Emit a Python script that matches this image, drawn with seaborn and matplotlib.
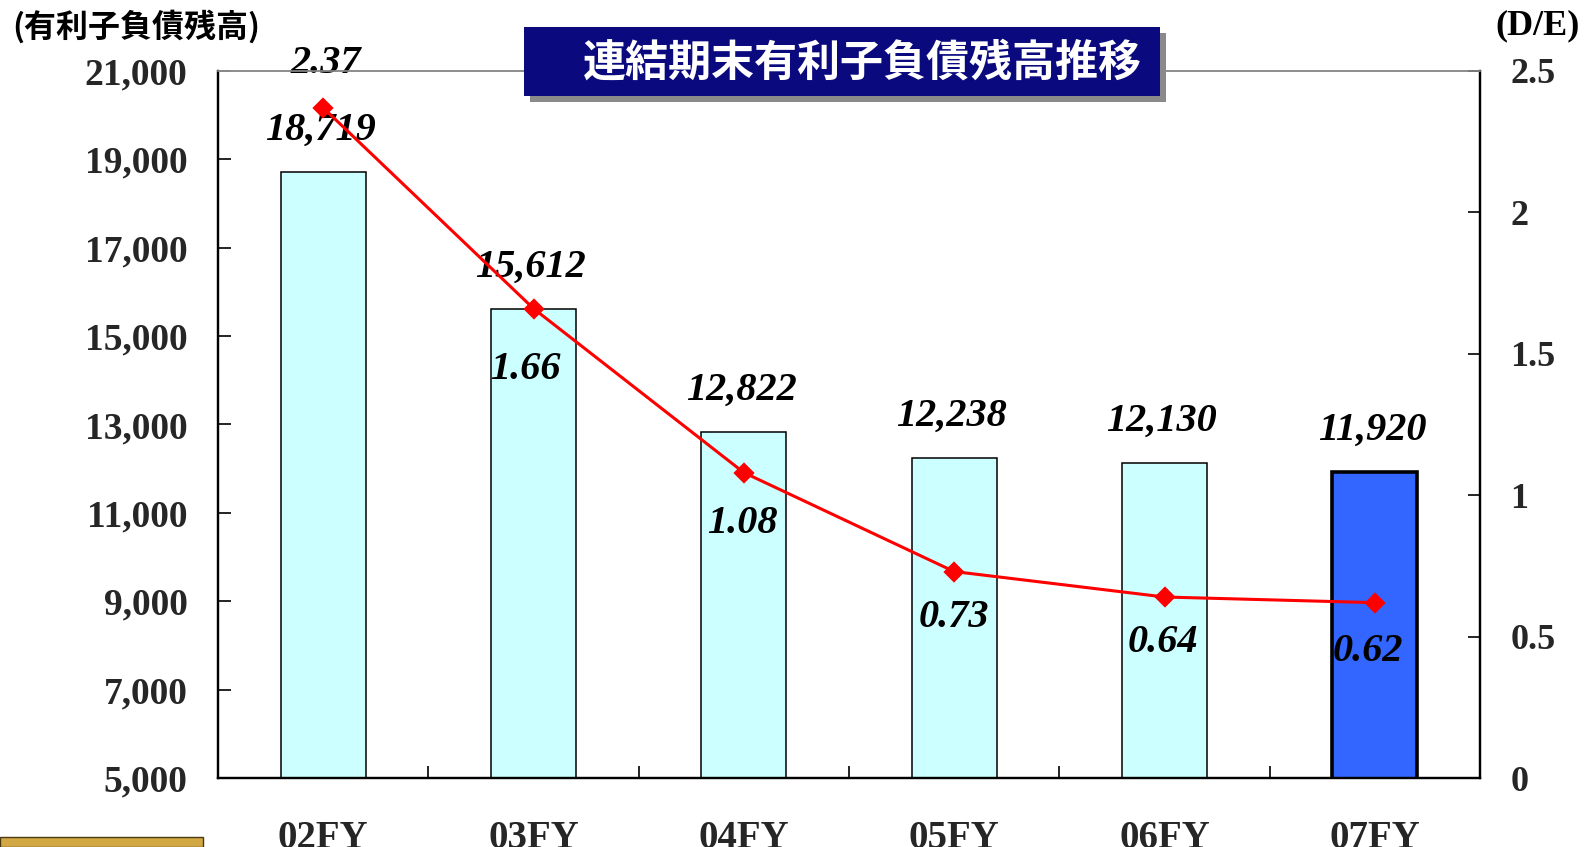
import matplotlib
matplotlib.use("Agg")
import matplotlib.pyplot as plt
import seaborn as sns
import pandas as pd
from matplotlib.patches import Rectangle

# ---- data ----
categories = ["02FY", "03FY", "04FY", "05FY", "06FY", "07FY"]
debt = [18719, 15612, 12822, 12238, 12130, 11920]
de_ratio = [2.37, 1.66, 1.08, 0.73, 0.64, 0.62]
debt_labels = ["18,719", "15,612", "12,822", "12,238", "12,130", "11,920"]
de_labels = ["2.37", "1.66", "1.08", "0.73", "0.64", "0.62"]
left_ticks = [5000, 7000, 9000, 11000, 13000, 15000, 17000, 19000, 21000]
left_tick_labels = ["5,000", "7,000", "9,000", "11,000", "13,000", "15,000", "17,000", "19,000", "21,000"]
right_ticks = [0, 0.5, 1, 1.5, 2, 2.5]
right_tick_labels = ["0", "0.5", "1", "1.5", "2", "2.5"]
title_text = "連結期末有利子負債残高推移"
left_unit = "(有利子負債残高)"
right_unit = "(D/E)"

# ---- style ----
bar_colors = ["#CCFFFF"] * 5 + ["#3366FF"]
bar_lw = [1.1] * 5 + [2.6]
de_offsets = [(2, 32), (-6, -44), (-1, -37), (0, -33), (-1, -33), (-5, -35)]

sns.set_theme(style="white")
plt.rcParams["font.family"] = ["Liberation Serif", "DejaVu Serif"]
cjk = ["Noto Sans CJK JP", "DejaVu Sans"]

fig = plt.figure(figsize=(15.89, 8.47), dpi=100)
ax = fig.add_axes([218 / 1589, 69 / 847, 1262 / 1589, 707 / 847])

df = pd.DataFrame({"cat": categories, "debt": debt})
sns.barplot(data=df, x="cat", y="debt", hue="cat", palette=bar_colors,
            legend=False, width=0.405, ax=ax, order=categories, saturation=1)
for p, lw in zip(ax.patches, bar_lw):
    p.set_edgecolor("black")
    p.set_linewidth(lw)

ax.set_xlim(-0.5, 5.5)
ax.set_ylim(5000, 21000)
ax.set_yticks(left_ticks)
ax.set_yticklabels(left_tick_labels, fontsize=27, fontweight="bold")
ax.set_xticks(range(len(categories)))
ax.set_xticklabels(categories, fontsize=28, fontweight="bold")
ax.set_xlabel("")
ax.set_ylabel("")
ax.tick_params(axis="y", direction="in", length=9, width=1.2, color="black",
               pad=22, left=True)
ax.tick_params(axis="x", length=0, pad=30)
ax.set_xticks([0.5, 1.5, 2.5, 3.5, 4.5], minor=True)
ax.tick_params(axis="x", which="minor", direction="in", length=9, width=1.2,
               color="black", bottom=True)

for side in ["left", "bottom", "right"]:
    ax.spines[side].set_color("black")
    ax.spines[side].set_linewidth(1.6)
ax.spines["top"].set_color("#8c8c8c")
ax.spines["top"].set_linewidth(1.2)

for i, (v, lab) in enumerate(zip(debt, debt_labels)):
    ax.annotate(lab, (i, v), xytext=(-2, 30), textcoords="offset points",
                ha="center", va="center", fontsize=29, fontweight="bold",
                fontstyle="italic", color="black", zorder=5)

ax2 = ax.twinx()
sns.pointplot(x=categories, y=de_ratio, order=categories, color="#FF0000",
              markers="D", linestyles="-", ax=ax2, markersize=9,
              linewidth=2.2)
ax2.set_ylim(0, 2.5)
ax2.set_xlim(-0.5, 5.5)
ax2.set_yticks(right_ticks)
ax2.set_yticklabels(right_tick_labels, fontsize=26, fontweight="bold")
ax2.tick_params(axis="y", direction="in", length=9, width=1.2, color="black",
                pad=22, right=True)
ax2.set_ylabel("")
ax2.set_xlabel("")
for side in ["left", "bottom", "right"]:
    ax2.spines[side].set_color("black")
    ax2.spines[side].set_linewidth(1.6)
ax2.spines["top"].set_color("#8c8c8c")
ax2.spines["top"].set_linewidth(1.2)

for i, (v, lab, off) in enumerate(zip(de_ratio, de_labels, de_offsets)):
    ax2.annotate(lab, (i, v), xytext=off, textcoords="offset points",
                 ha="center", va="center", fontsize=29, fontweight="bold",
                 fontstyle="italic", color="black", zorder=1)

# title box with shadow
fig.patches.append(Rectangle((530 / 1589, 1 - 102 / 847), 636 / 1589, 69 / 847,
                             transform=fig.transFigure, facecolor="#8a8a8a",
                             edgecolor="none", zorder=10))
fig.patches.append(Rectangle((524 / 1589, 1 - 96 / 847), 636 / 1589, 69 / 847,
                             transform=fig.transFigure, facecolor="#0A0A7E",
                             edgecolor="none", zorder=11))
fig.text(862 / 1589, 1 - 63 / 847, title_text, family=cjk, fontsize=31,
         fontweight="bold", color="white", ha="center", va="center", zorder=12)

fig.text(12 / 1589, 1 - 27 / 847, left_unit, family=cjk, fontsize=23,
         fontweight="bold", color="black", ha="left", va="center")
fig.text(1538 / 1589, 1 - 26 / 847, right_unit, fontsize=26,
         fontweight="bold", color="black", ha="center", va="center")

# gold strip bottom-left
fig.patches.append(Rectangle((0, 0), 203 / 1589, 10 / 847,
                             transform=fig.transFigure, facecolor="#D2A845",
                             edgecolor="#4a3a10", linewidth=1, zorder=10))

fig.savefig("out.png", dpi=100)
